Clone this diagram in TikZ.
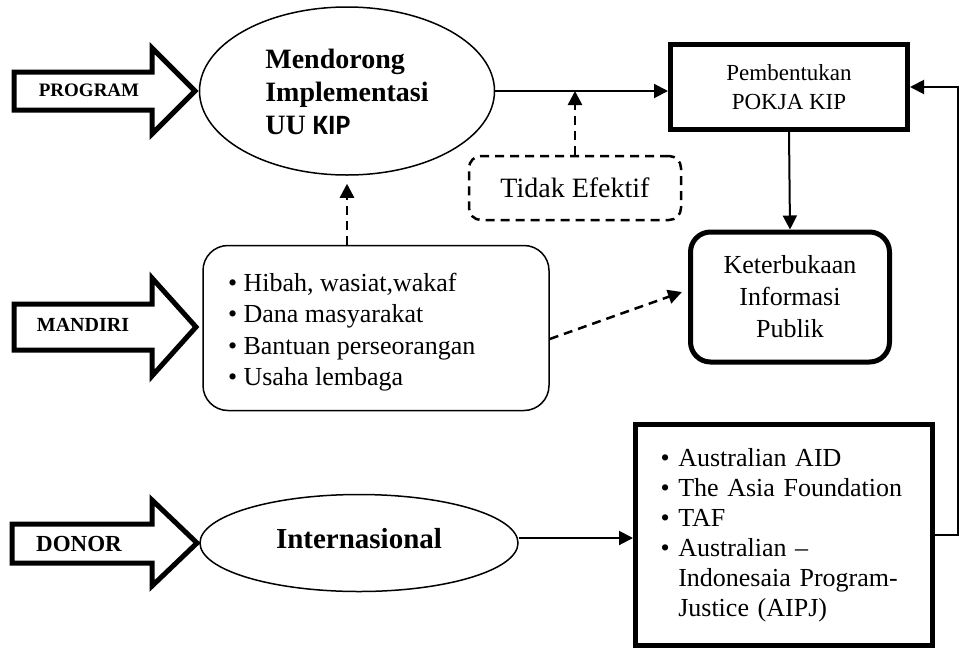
\documentclass[tikz,border=0pt]{standalone}
\usepackage{fontspec}
\setmainfont{Liberation Serif}
\newfontfamily\kipfont{Carlito}
\usetikzlibrary{arrows.meta,shapes.geometric}

\tikzset{
  blockarrow/.style={line width=5pt, miter limit=10, line join=miter, fill=white},
  arrowlabel/.style={font=\bfseries, inner sep=0pt},
  oval/.style={ellipse, draw, line width=1.5pt, inner sep=0pt},
  heavybox/.style={draw, line width=5pt, inner sep=0pt, align=center},
  listbox/.style={draw, inner xsep=25pt, inner ysep=0pt},
  link/.style={line width=2pt, -{Triangle[length=14pt,width=14pt]}},
  dashlink/.style={line width=2.5pt, dash pattern=on 9pt off 6pt, -{Triangle[length=14pt,width=14pt]}},
}

\begin{document}
\begin{tikzpicture}[x=1pt, y=-1pt]
\useasboundingbox (0,0) rectangle (963,651);

% block arrows on the left
\draw[blockarrow] (14,72) -- (152,72) -- (152,48) -- (195,91) -- (152,134) -- (152,110) -- (14,110) -- cycle;
\node[arrowlabel, font=\fontsize{19}{22}\selectfont\bfseries] (program) at (89,90) {PROGRAM};

\draw[blockarrow] (14,304) -- (152,304) -- (152,278) -- (196,327) -- (152,376) -- (152,350) -- (14,350) -- cycle;
\node[arrowlabel, font=\fontsize{20}{22}\selectfont\bfseries] (mandiri) at (83,325) {MANDIRI};

\draw[blockarrow] (12,524) -- (152,524) -- (152,500) -- (197,543) -- (152,586) -- (152,563) -- (12,563) -- cycle;
\node[arrowlabel, font=\fontsize{23}{26}\selectfont\bfseries] (donor) at (79,544) {DONOR};

% main nodes
\node[oval, minimum width=295pt, minimum height=168pt,
      font=\fontsize{28}{33}\selectfont\bfseries] (uu) at (347,91)
  {\raisebox{-4pt}[\height][\depth]{\begin{tabular}{@{}l@{}}Mendorong\\Implementasi\\UU {\kipfont KIP}\end{tabular}}};

\node[heavybox, minimum width=237pt, minimum height=85pt,
      font=\fontsize{23}{29}\selectfont] (pokja) at (789,87)
  {Pembentukan\\POKJA KIP};

\node[heavybox, rounded corners=20pt, minimum width=199pt, minimum height=130pt,
      font=\fontsize{26}{32}\selectfont] (kip) at (790,297)
  {Keterbukaan\\Informasi\\Publik};

\node[draw, line width=2.5pt, dash pattern=on 9pt off 6pt, rounded corners=12pt,
      minimum width=212pt, minimum height=64pt, inner sep=0pt,
      font=\fontsize{28}{32}\selectfont] (tidak) at (575,188)
  {Tidak Efektif};

\node[listbox, line width=1.5pt, rounded corners=25pt,
      minimum height=165pt, font=\fontsize{26}{31.5}\selectfont] (dana) at (376,328)
  {\raisebox{-4pt}[\height][\depth]{\parbox{296pt}{\raggedright
   \textbullet~Hibah, wasiat,wakaf\\
   \textbullet~Dana masyarakat\\
   \textbullet~Bantuan perseorangan\\
   \textbullet~Usaha lembaga}}};

\node[oval, minimum width=318pt, minimum height=97pt,
      font=\fontsize{29}{32}\selectfont\bfseries] (intl) at (359,543)
  {\raisebox{4pt}[\height][\depth]{Internasional}};

\node[listbox, line width=5pt, text width=247pt, align=left, minimum height=221pt,
      font=\fontsize{26}{30}\selectfont] (aus) at (784,535)
  {\textbullet~Australian AID\\
   \textbullet~The Asia Foundation\\
   \textbullet~TAF\\
   \textbullet~Australian --\\
   \phantom{\textbullet~}Indonesaia Program-\\
   \phantom{\textbullet~}Justice (AIPJ)};

% connectors
\coordinate (intlout) at ([yshift=5pt]intl.east);
\draw[link] (uu.east) -- (pokja.west |- uu.east);
\draw[dashlink] (tidak.north) -- (tidak.north |- uu.east);
\draw[link] (pokja.south) -- (kip.north);
\draw[dashlink] (uu.south |- dana.north) -- ([yshift=-8pt]uu.south);
\draw[dashlink] ([yshift=-11pt]dana.east) -- ([xshift=-6pt,yshift=5pt]kip.west);
\draw[link] (intlout) -- (aus.west |- intlout);
\draw[link] (aus.east) -- ++(23,0) |- (pokja.east);
\end{tikzpicture}
\end{document}
